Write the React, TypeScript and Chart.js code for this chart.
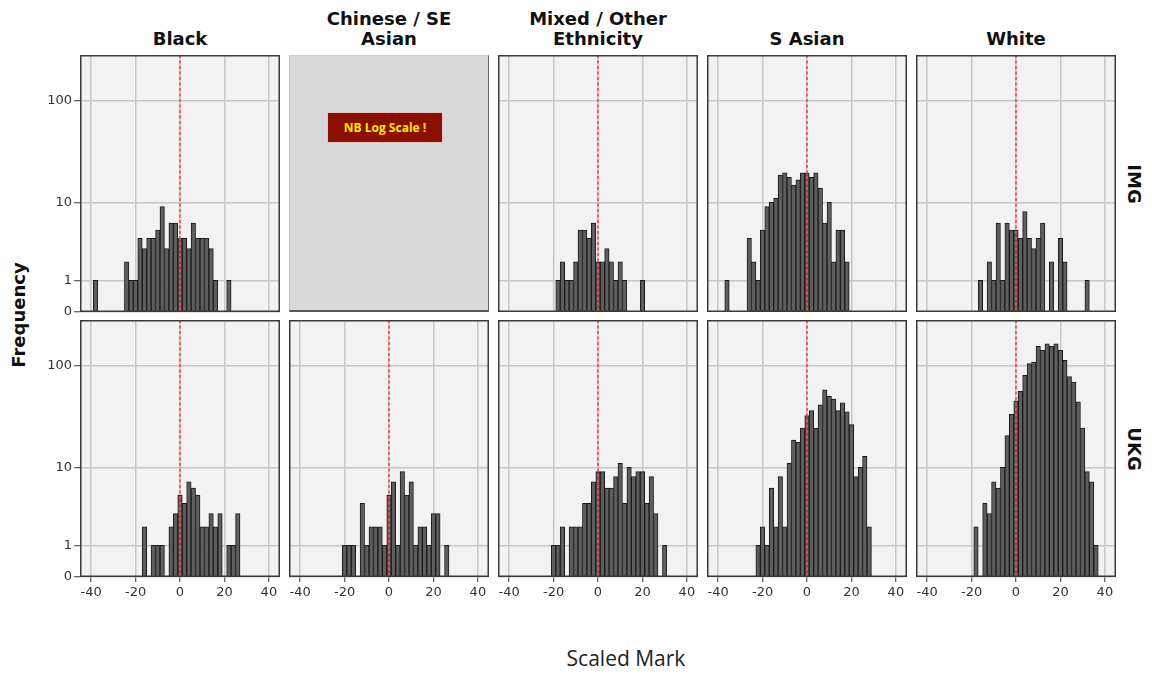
import React, { useEffect, useRef } from 'react';
import { Chart, registerables } from 'chart.js';

Chart.register(...registerables);

// ---------- data ----------
const bins = [-40, -38, -36, -34, -32, -30, -28, -26, -24, -22, -20, -18, -16, -14, -12, -10, -8, -6, -4, -2, 0, 2, 4, 6, 8, 10, 12, 14, 16, 18, 20, 22, 24, 26, 28, 30, 32, 34, 36, 38, 40];
const xTickValues = [-40, -20, 0, 20, 40];
const yTickCounts = [0, 1, 10, 100];
const yTickLabels = ['0', '1', '10', '100'];
const columnTitles = ['Black', 'Chinese / SE\nAsian', 'Mixed / Other\nEthnicity', 'S Asian', 'White'];
const rowTitles = ['IMG', 'UKG'];

const blackIMG = [0, 1, 0, 0, 0, 0, 0, 0, 2, 1, 1, 4, 3, 4, 4, 5, 9, 3, 6, 6, 4, 4, 3, 6, 4, 4, 4, 3, 1, 0, 0, 1, 0, 0, 0, 0, 0, 0, 0, 0, 0];
const chineseIMG: number[] | null = null;
const mixedIMG = [0, 0, 0, 0, 0, 0, 0, 0, 0, 0, 0, 1, 2, 1, 1, 2, 5, 5, 4, 6, 2, 2, 3, 2, 1, 2, 1, 0, 0, 0, 1, 0, 0, 0, 0, 0, 0, 0, 0, 0, 0];
const sAsianIMG = [0, 0, 1, 0, 0, 0, 0, 4, 2, 1, 5, 9, 10, 11, 19, 20, 18, 15, 17, 20, 20, 18, 20, 14, 6, 10, 2, 5, 5, 2, 0, 0, 0, 0, 0, 0, 0, 0, 0, 0, 0];
const whiteIMG = [0, 0, 0, 0, 0, 0, 0, 0, 0, 0, 0, 0, 1, 0, 2, 1, 6, 1, 6, 5, 5, 4, 8, 4, 3, 4, 6, 0, 2, 0, 4, 2, 0, 0, 0, 0, 1, 0, 0, 0, 0];

const blackUKG = [0, 0, 0, 0, 0, 0, 0, 0, 0, 0, 0, 0, 2, 0, 1, 1, 1, 0, 2, 3, 5, 4, 7, 6, 5, 2, 2, 3, 2, 3, 0, 1, 1, 3, 0, 0, 0, 0, 0, 0, 0];
const chineseUKG = [0, 0, 0, 0, 0, 0, 0, 0, 0, 0, 1, 1, 1, 0, 4, 1, 2, 2, 2, 1, 5, 7, 1, 9, 5, 7, 1, 2, 2, 1, 3, 3, 0, 1, 0, 0, 0, 0, 0, 0, 0];
const mixedUKG = [0, 0, 0, 0, 0, 0, 0, 0, 0, 0, 1, 1, 2, 0, 2, 2, 2, 4, 4, 7, 9, 9, 6, 6, 8, 11, 4, 10, 8, 9, 9, 4, 8, 3, 0, 1, 0, 0, 0, 0, 0];
const sAsianUKG = [0, 0, 0, 0, 0, 0, 0, 0, 0, 1, 2, 1, 6, 2, 8, 2, 11, 19, 18, 25, 33, 37, 25, 42, 59, 51, 48, 37, 44, 36, 27, 8, 10, 13, 2, 0, 0, 0, 0, 0, 0];
const whiteUKG = [0, 0, 0, 0, 0, 0, 0, 0, 0, 0, 0, 2, 0, 4, 3, 7, 6, 10, 21, 34, 46, 57, 81, 105, 109, 154, 141, 163, 154, 163, 141, 113, 79, 70, 45, 25, 9, 7, 1, 0, 0];

const panelRows: (number[] | null)[][] = [
  [blackIMG, chineseIMG, mixedIMG, sAsianIMG, whiteIMG],
  [blackUKG, chineseUKG, mixedUKG, sAsianUKG, whiteUKG],
];

// ---------- layout ----------
const COL_LEFTS = [80, 289, 498, 707, 916];
const ROW_TOPS = [55, 320];
const PANEL_W = 200;
const PANEL_H = 257;
const Y_AXIS_W = 45;
const X_AXIS_H = 30;
const LABEL_OVERHANG = 8;
const X_MIN = -45;
const X_MAX = 45;
const Y_MAX = 2.44;

const tr = (c: number) => Math.log10(1 + c);

const panelPlugin = {
  id: 'panelDeco',
  beforeDraw(chart: any) {
    const { ctx, chartArea: a } = chart;
    ctx.save();
    ctx.fillStyle = '#f2f2f2';
    ctx.fillRect(a.left, a.top, a.right - a.left, a.bottom - a.top);
    ctx.restore();
  },
  afterDatasetsDraw(chart: any) {
    const { ctx, chartArea: a } = chart;
    const x0 = chart.scales.x.getPixelForValue(0);
    ctx.save();
    ctx.strokeStyle = 'rgba(255,70,70,0.85)';
    ctx.lineWidth = 2;
    ctx.setLineDash([3, 2.5]);
    ctx.beginPath();
    ctx.moveTo(Math.round(x0), a.top);
    ctx.lineTo(Math.round(x0), a.bottom);
    ctx.stroke();
    ctx.setLineDash([]);
    ctx.strokeStyle = '#3a3a3a';
    ctx.lineWidth = 1.5;
    ctx.strokeRect(a.left + 0.75, a.top + 0.75, a.right - a.left - 1.5, a.bottom - a.top - 1.5);
    ctx.restore();
  },
};

function Panel({ left, top, counts, showY, showX }: { left: number; top: number; counts: number[]; showY: boolean; showX: boolean }) {
  const ref = useRef<HTMLCanvasElement>(null);
  const padL = showY ? Y_AXIS_W : 0;
  const padB = showX ? X_AXIS_H : showY ? LABEL_OVERHANG : 0;
  const cw = PANEL_W + padL;
  const ch = PANEL_H + padB;

  useEffect(() => {
    if (!ref.current) return;
    const chart = new Chart(ref.current, {
      type: 'bar',
      data: {
        datasets: [
          {
            data: bins.map((b, i) => ({ x: b, y: counts[i] > 0 ? tr(counts[i]) : null })) as any,
            backgroundColor: '#5e5e5e',
            borderColor: '#1a1a1a',
            borderWidth: 1,
            barPercentage: 1,
            categoryPercentage: 1,
          },
        ],
      },
      options: {
        animation: false,
        responsive: false,
        devicePixelRatio: 1,
        layout: { padding: 0, autoPadding: false } as any,
        plugins: { legend: { display: false }, tooltip: { enabled: false } },
        scales: {
          x: {
            type: 'linear',
            min: X_MIN,
            max: X_MAX,
            offset: false,
            afterBuildTicks: (s: any) => {
              s.ticks = xTickValues.map((v) => ({ value: v }));
            },
            afterFit: (s: any) => {
              s.height = padB;
              s.paddingLeft = 0;
              s.paddingRight = 0;
              s.paddingTop = 0;
              s.paddingBottom = 0;
            },
            ticks: {
              display: showX,
              autoSkip: false,
              maxRotation: 0,
              padding: 3,
              color: '#333',
              font: { family: 'DejaVu Sans', size: 13 },
              callback: (v: any) => String(v),
            },
            grid: { color: '#c6c6c6', lineWidth: 1.5, offset: false, drawTicks: showX, tickLength: 5, tickColor: '#333', tickWidth: 1 },
            border: { display: false },
          },
          y: {
            type: 'linear',
            min: 0,
            max: Y_MAX,
            afterBuildTicks: (s: any) => {
              s.ticks = yTickCounts.map((c) => ({ value: tr(c) }));
            },
            afterFit: (s: any) => {
              s.width = showY ? Y_AXIS_W : 0;
              s.paddingTop = 0;
              s.paddingBottom = 0;
              s.paddingLeft = 0;
              s.paddingRight = 0;
            },
            ticks: {
              display: showY,
              autoSkip: false,
              padding: 2,
              color: '#333',
              font: { family: 'DejaVu Sans', size: 13 },
              callback: (_v: any, i: number) => yTickLabels[i],
            },
            grid: { color: '#c6c6c6', lineWidth: 1.5, drawTicks: showY, tickLength: 6, tickColor: '#333', tickWidth: 1 },
            border: { display: false },
          },
        },
      } as any,
      plugins: [panelPlugin],
    });
    return () => chart.destroy();
  }, []);

  return (
    <canvas
      ref={ref}
      width={cw}
      height={ch}
      style={{ position: 'absolute', left: left - padL, top, width: cw, height: ch }}
    />
  );
}

export default function App() {
  const headFont = "bold 18px 'DejaVu Sans', sans-serif";
  return (
    <div style={{ position: 'fixed', left: 0, top: 0, width: 1152, height: 675, background: '#ffffff', overflow: 'hidden' }}>
      {columnTitles.map((t, ci) => {
        const lines = t.split('\n');
        return (
          <div
            key={'h' + ci}
            style={{
              position: 'absolute',
              left: COL_LEFTS[ci] - 20,
              width: PANEL_W + 40,
              top: 49 - lines.length * 20,
              font: headFont,
              lineHeight: '20px',
              textAlign: 'center',
              color: '#111',
              whiteSpace: 'pre',
            }}
          >
            {t}
          </div>
        );
      })}
      {rowTitles.map((t, ri) => (
        <div
          key={'r' + ri}
          style={{
            position: 'absolute',
            left: 1133 - 40,
            top: ROW_TOPS[ri] + PANEL_H / 2 - 12,
            width: 80,
            height: 24,
            lineHeight: '24px',
            textAlign: 'center',
            font: headFont,
            color: '#111',
            transform: 'rotate(90deg)',
          }}
        >
          {t}
        </div>
      ))}
      <div
        style={{
          position: 'absolute',
          left: 20 - 70,
          top: 315 - 12,
          width: 140,
          height: 24,
          lineHeight: '24px',
          textAlign: 'center',
          font: headFont,
          color: '#111',
          transform: 'rotate(-90deg)',
        }}
      >
        Frequency
      </div>
      <div
        style={{
          position: 'absolute',
          left: 626 - 150,
          width: 300,
          top: 644,
          lineHeight: '28px',
          textAlign: 'center',
          font: "21px 'Open Sans', sans-serif",
          color: '#222',
        }}
      >
        Scaled Mark
      </div>
      {panelRows.map((row, ri) =>
        row.map((counts, ci) => {
          if (!counts) {
            return (
              <div
                key={ri + '-' + ci}
                style={{
                  position: 'absolute',
                  left: COL_LEFTS[ci],
                  top: ROW_TOPS[ri],
                  width: PANEL_W,
                  height: PANEL_H,
                  boxSizing: 'border-box',
                  background: '#d9d9d9',
                  borderLeft: '1px solid #bdbdbd',
                  borderTop: '1px solid #cfcfcf',
                  borderRight: '1px solid #6a6a6a',
                  borderBottom: '2px solid #5a5a5a',
                }}
              >
                <div
                  style={{
                    position: 'absolute',
                    left: 326 - COL_LEFTS[ci],
                    top: 111 - ROW_TOPS[ri],
                    width: 116,
                    height: 31,
                    boxSizing: 'border-box',
                    background: '#8c1000',
                    border: '1px solid #e8c8c0',
                    color: '#ffe800',
                    font: "bold 12px 'Open Sans', sans-serif",
                    lineHeight: '29px',
                    textAlign: 'center',
                  }}
                >
                  NB Log Scale !
                </div>
              </div>
            );
          }
          return (
            <Panel
              key={ri + '-' + ci}
              left={COL_LEFTS[ci]}
              top={ROW_TOPS[ri]}
              counts={counts}
              showY={ci === 0}
              showX={ri === 1}
            />
          );
        })
      )}
    </div>
  );
}
